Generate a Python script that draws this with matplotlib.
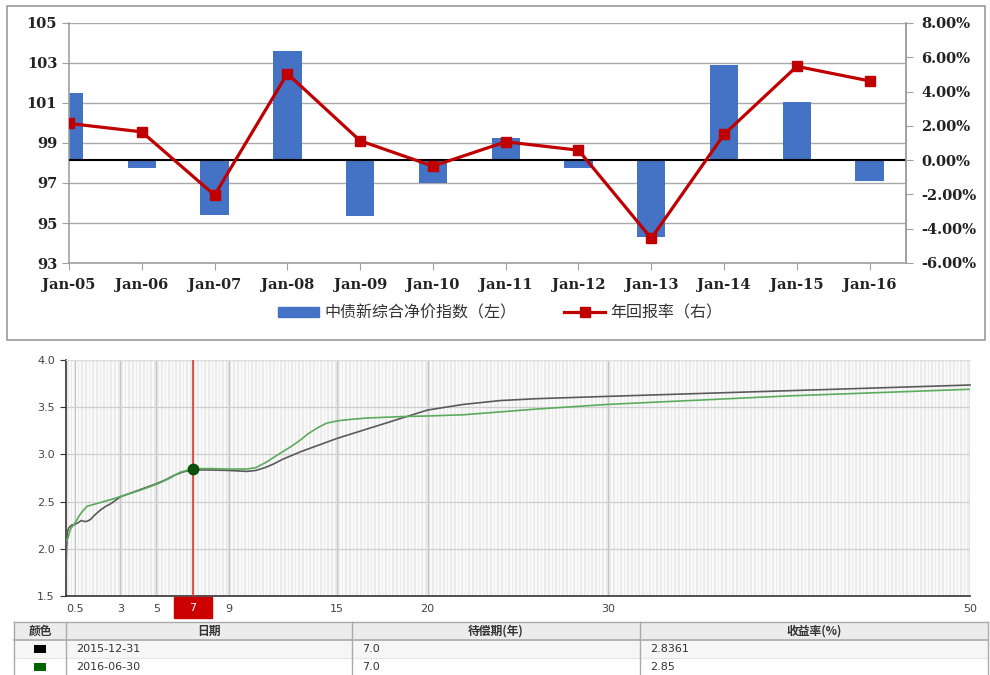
import numpy as np
import matplotlib
matplotlib.use("Agg")
import matplotlib.pyplot as plt
from matplotlib.patches import Rectangle
from matplotlib.lines import Line2D
from matplotlib.ticker import MultipleLocator, FixedLocator

plt.rcParams['font.family'] = ['DejaVu Sans', 'Noto Sans CJK SC']
CJK = ['Noto Sans CJK SC', 'DejaVu Sans']

# ---------------- data: top chart ----------------
years = ['Jan-05', 'Jan-06', 'Jan-07', 'Jan-08', 'Jan-09', 'Jan-10',
         'Jan-11', 'Jan-12', 'Jan-13', 'Jan-14', 'Jan-15', 'Jan-16']
index_vals = [101.5, 97.77, 95.42, 103.6, 95.33, 97.02,
              99.25, 97.77, 94.3, 102.9, 101.05, 97.08]
annual_return = [2.14, 1.65, -2.04, 5.05, 1.13, -0.35,
                 1.07, 0.58, -4.56, 1.5, 5.47, 4.62]
left_ticks = [93, 95, 97, 99, 101, 103, 105]
right_ticks = [-6, -4, -2, 0, 2, 4, 6, 8]
bar_label = '中债新综合净价指数（左）'
line_label = '年回报率（右）'

# ---------------- data: bottom chart ----------------
t_black = [0.0, 0.03, 0.08, 0.15, 0.3, 0.5, 0.7, 0.85, 1.0, 1.15, 1.35, 1.6, 1.9,
           2.2, 2.5, 3.0, 3.5, 4.0, 4.5, 5.0, 5.5, 6.0, 6.5, 7.0, 8.0, 9.0, 10.0,
           10.5, 11.0, 11.5, 12.0, 12.5, 13.0, 14.0, 15.0, 16.0, 17.0, 18.0, 19.0,
           20.0, 21.0, 22.0, 24.0, 26.0, 30.0, 35.0, 40.0, 45.0, 50.0]
y_black = [1.78, 2.0, 2.18, 2.22, 2.25, 2.26, 2.28, 2.3, 2.29, 2.29, 2.31, 2.36, 2.41,
           2.45, 2.48, 2.55, 2.585, 2.62, 2.655, 2.69, 2.73, 2.78, 2.815, 2.836, 2.835, 2.83, 2.82,
           2.83, 2.86, 2.9, 2.95, 2.99, 3.03, 3.1, 3.17, 3.23, 3.29, 3.35, 3.41,
           3.47, 3.5, 3.53, 3.57, 3.59, 3.615, 3.645, 3.675, 3.705, 3.735]
t_green = [0.05, 0.12, 0.2, 0.28, 0.42, 0.55, 0.7, 0.88, 1.16, 1.53, 2.08, 2.63, 3.1,
           3.6, 4.1, 4.6, 5.1, 5.76, 6.3, 7.0, 8.0, 9.0, 10.0, 10.5, 11.1, 11.5, 12.0,
           12.5, 12.95, 13.4, 13.9, 14.4, 15.0, 15.7, 16.6, 18.5, 20.0, 22.0, 24.0,
           26.0, 30.0, 35.0, 40.0, 45.0, 50.0]
y_green = [2.09, 2.12, 2.18, 2.22, 2.25, 2.29, 2.34, 2.39, 2.45, 2.47, 2.5, 2.53, 2.56,
           2.59, 2.62, 2.655, 2.69, 2.75, 2.81, 2.848, 2.85, 2.845, 2.845, 2.86, 2.92, 2.97, 3.03,
           3.09, 3.15, 3.22, 3.28, 3.33, 3.355, 3.37, 3.385, 3.4, 3.407, 3.42, 3.45,
           3.48, 3.53, 3.575, 3.62, 3.655, 3.69]
x_ticks = [0.5, 3, 5, 7, 9, 15, 20, 30, 50]
x_tick_labels = ['0.5', '3', '5', '7', '9', '15', '20', '30', '50']
y_ticks = [1.5, 2.0, 2.5, 3.0, 3.5, 4.0]
selected_maturity = 7.0
selected_yield = 2.845

# ---------------- data: table ----------------
table_headers = ['颜色', '日期', '待偿期(年)', '收益率(%)']
row_colors = ['#000000', '#006400']
row_dates = ['2015-12-31', '2016-06-30']
row_maturity = ['7.0', '7.0']
row_yield = ['2.8361', '2.85']

W, H = 990, 675
fig = plt.figure(figsize=(W / 100, H / 100), dpi=100)


def fx(px):
    return px / W


def fy(py):
    return 1 - py / H


# ================= TOP CHART =================
fig.add_artist(Rectangle((fx(7), fy(340)), fx(978), (340 - 6) / H,
                         transform=fig.transFigure, fill=False,
                         ec='#9a9a9a', lw=1.2))

ax1 = fig.add_axes([fx(69), fy(263), fx(906 - 69), 240 / H])
x = np.arange(len(years))
lo, hi = left_ticks[0], left_ticks[-1]
rlo, rhi = right_ticks[0], right_ticks[-1]
base = lo + (0 - rlo) / (rhi - rlo) * (hi - lo)
ax1.bar(x, np.array(index_vals) - base, bottom=base, width=0.39,
        color='#4472c4', zorder=2)
ax1.set_xlim(0, len(years) - 0.5)
ax1.set_ylim(lo, hi)
ax1.set_yticks(left_ticks)
ax1.set_xticks(x)
ax1.set_xticklabels(years)
ax1.grid(axis='y', color='#a8a8a8', lw=1.0, zorder=0)
ax1.set_axisbelow(True)
ax1.axhline(base, color='black', lw=1.5, zorder=3)
ax1.spines['top'].set_visible(False)
for s in ['left', 'right', 'bottom']:
    ax1.spines[s].set_color('#a0a0a0')
    ax1.spines[s].set_linewidth(1.2)
ax1.tick_params(axis='both', length=5, color='#a0a0a0', labelsize=10.5,
                labelcolor='#222222')
ax1.tick_params(axis='x', pad=6)
for lab in ax1.get_xticklabels() + ax1.get_yticklabels():
    lab.set_fontfamily('DejaVu Serif')
    lab.set_fontweight('bold')

ax2 = ax1.twinx()
ax2.plot(x, annual_return, color='#c00000', lw=2.3, marker='s', ms=7,
         mfc='#c00000', mec='#c00000', zorder=4)
ax2.set_ylim(rlo, rhi)
ax2.set_yticks(right_ticks)
ax2.set_yticklabels([f'{v:.2f}%' for v in right_ticks])
for s in ['top', 'left', 'bottom']:
    ax2.spines[s].set_visible(False)
ax2.spines['right'].set_color('#a0a0a0')
ax2.spines['right'].set_linewidth(1.2)
ax2.tick_params(axis='y', length=5, color='#a0a0a0', labelsize=10.5,
                labelcolor='#222222', pad=6)
for lab in ax2.get_yticklabels():
    lab.set_fontfamily('DejaVu Serif')
    lab.set_fontweight('bold')

handles = [Rectangle((0, 0), 1, 1, color='#4472c4'),
           Line2D([], [], color='#c00000', lw=2.3, marker='s', ms=7)]
leg = fig.legend(handles, [bar_label, line_label], loc='center',
                 bbox_to_anchor=(fx(500), fy(313)), ncol=2, frameon=False,
                 prop={'family': CJK, 'size': 11.5}, handlelength=2.6,
                 handleheight=0.6, columnspacing=3.0, handletextpad=0.3)
for t in leg.get_texts():
    t.set_color('#333333')

# ================= BOTTOM CHART =================
ax3 = fig.add_axes([fx(66), fy(596), fx(970 - 66), 236 / H])
ax3.set_facecolor('#ebebeb')
ax3.set_xlim(0, 50)
ax3.set_ylim(1.5, 4.0)
ax3.xaxis.set_minor_locator(MultipleLocator(0.2))
ax3.grid(axis='x', which='minor', color='white', lw=1.1, zorder=0)
ax3.xaxis.set_major_locator(FixedLocator(x_ticks))
sel_idx = x_ticks.index(selected_maturity)
# the selected tick's label is drawn inside the red marker box below
ax3.set_xticklabels(['' if i == sel_idx else lab
                     for i, lab in enumerate(x_tick_labels)])
ax3.set_yticks(y_ticks)
ax3.set_yticklabels([f'{v:.1f}' for v in y_ticks])
ax3.grid(axis='x', which='major', color='#c4c4c4', lw=0.9, zorder=0)
ax3.grid(axis='y', which='major', color='#cfcfcf', lw=0.9, zorder=0)
ax3.set_axisbelow(True)
ax3.spines['right'].set_visible(False)
ax3.spines['top'].set_color('#dddddd')
for s in ['left', 'bottom']:
    ax3.spines[s].set_color('#333333')
    ax3.spines[s].set_linewidth(1.2)
ax3.tick_params(axis='x', which='both', length=0, labelsize=8,
                labelcolor='#444444', pad=6)
ax3.tick_params(axis='y', which='major', length=4, color='#333333',
                labelsize=8, labelcolor='#444444', pad=4)
ax3.tick_params(axis='y', which='minor', length=0)

ax3.plot(t_black, y_black, color='#5a5a5a', lw=1.2, zorder=3, clip_on=False)
ax3.plot(t_green, y_green, color='#5cab5c', lw=1.2, zorder=3)
ax3.axvline(selected_maturity, color='#e53935', lw=1.2, zorder=4)
ax3.plot([selected_maturity], [selected_yield], 'o', color='#0b500b',
         ms=7.5, zorder=5)

trans = ax3.get_xaxis_transform()
ax3.add_patch(Rectangle((selected_maturity - 1.05, -0.093), 2.1, 0.089,
                        transform=trans, color='#cc0000', clip_on=False,
                        zorder=6))
ax3.text(selected_maturity, -0.052, x_tick_labels[sel_idx],
         transform=trans, ha='center', va='center', fontsize=8,
         color='white', zorder=7, clip_on=False)

# ================= TABLE =================
axt = fig.add_axes([0, 0, 1, 54 / H])
axt.set_xlim(0, W)
axt.set_ylim(675, 621)
axt.axis('off')
left_edge, right_edge = 14, 988
col_edges = [14, 66, 352, 640, 988]
top, hdr_bot, r1_bot, bot = 622, 640, 658, 676
axt.add_patch(Rectangle((left_edge, top), right_edge - left_edge,
                        hdr_bot - top, fc='#ececec', ec='none'))
axt.add_patch(Rectangle((left_edge, hdr_bot), right_edge - left_edge,
                        r1_bot - hdr_bot, fc='#f6f6f6', ec='none'))
axt.plot([left_edge, right_edge], [top, top], color='#aaaaaa', lw=1)
axt.plot([left_edge, right_edge], [hdr_bot, hdr_bot], color='#aaaaaa', lw=1.2)
axt.plot([left_edge, right_edge], [r1_bot, r1_bot], color='#e6e6e6', lw=0.8)
for ce in col_edges:
    axt.plot([ce, ce], [top, bot], color='#aaaaaa', lw=1)
for i, h in enumerate(table_headers):
    cx = (col_edges[i] + col_edges[i + 1]) / 2
    axt.text(cx, (top + hdr_bot) / 2, h, ha='center', va='center',
             fontsize=8.5, fontweight='bold', color='#333333', family=CJK)
row_centres = [(hdr_bot + r1_bot) / 2, (r1_bot + bot) / 2]
for r in range(2):
    yc = row_centres[r]
    cx = (col_edges[0] + col_edges[1]) / 2
    axt.add_patch(Rectangle((cx - 6, yc - 4), 12, 8, fc=row_colors[r],
                            ec='none'))
    for c, val in zip([1, 2, 3], [row_dates[r], row_maturity[r], row_yield[r]]):
        axt.text(col_edges[c] + 10, yc, val, ha='left', va='center',
                 fontsize=8, color='#333333')

fig.savefig('out.png', dpi=100)
